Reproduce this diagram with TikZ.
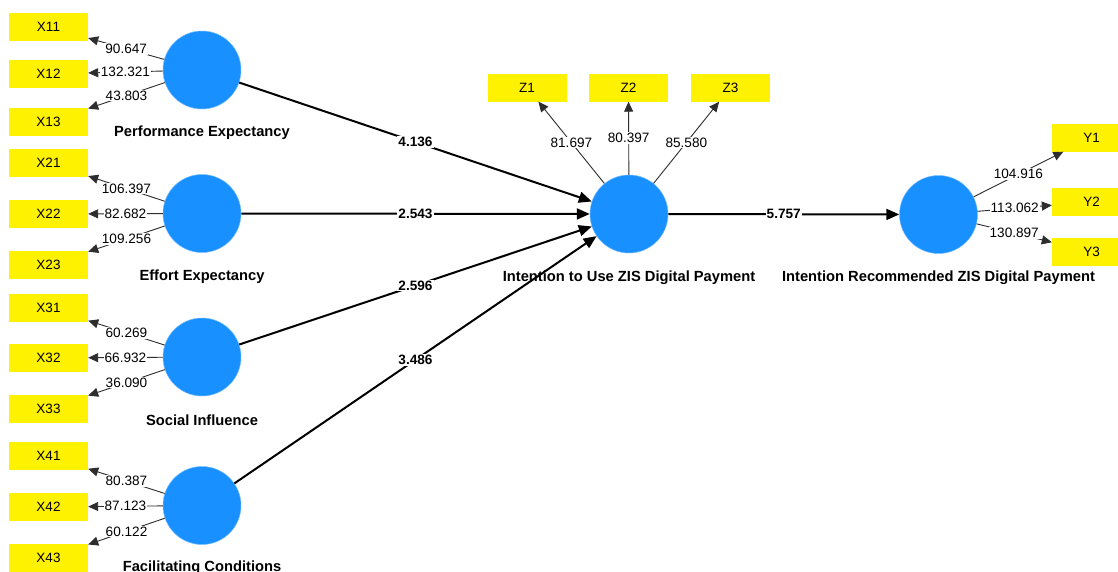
\documentclass[tikz,border=0pt]{standalone}
\usepackage{fontspec}
\setmainfont{Liberation Sans}
\usetikzlibrary{arrows.meta}
\definecolor{lvblue}{RGB}{24,144,255}
\definecolor{olinec}{RGB}{45,45,45}
\begin{document}
\begin{tikzpicture}[x=1pt,y=-1pt,
 ind/.style={fill=yellow, minimum width=79pt, minimum height=28pt, inner sep=0pt, font=\fontsize{13.5}{15}\selectfont},
 lv/.style={circle, fill=lvblue, draw=lvblue!60, line width=0.5pt, minimum size=78pt, inner sep=0pt},
 lvlabel/.style={font=\bfseries\fontsize{14.7}{16}\selectfont},
 outer/.style={draw=olinec, line width=0.9pt, -{Triangle[length=10pt,width=9pt]}},
 inner/.style={draw=black, line width=2pt, -{Triangle[length=13pt,width=11pt]}},
 oload/.style={fill=white, inner sep=1pt, font=\fontsize{13.6}{15}\selectfont},
 iload/.style={fill=white, inner sep=1pt, font=\bfseries\fontsize{13.6}{15}\selectfont}]
\useasboundingbox[fill=white] (0,0) rectangle (1118,571);
% indicator boxes
\node[ind] (X11) at (48.5,27) {X11};
\node[ind] (X12) at (48.5,74) {X12};
\node[ind] (X13) at (48.5,122) {X13};
\node[ind] (X21) at (48.5,163) {X21};
\node[ind] (X22) at (48.5,214) {X22};
\node[ind] (X23) at (48.5,265) {X23};
\node[ind] (X31) at (48.5,308) {X31};
\node[ind] (X32) at (48.5,358) {X32};
\node[ind] (X33) at (48.5,409) {X33};
\node[ind] (X41) at (48.5,456) {X41};
\node[ind] (X42) at (48.5,507) {X42};
\node[ind] (X43) at (48.5,558) {X43};
\node[ind] (Z1) at (527,87.5) {Z1};
\node[ind] (Z2) at (628.5,87.5) {Z2};
\node[ind] (Z3) at (730.5,87.5) {Z3};
\node[ind] (Y1) at (1091.5,137.5) {Y1};
\node[ind] (Y2) at (1091.5,202) {Y2};
\node[ind] (Y3) at (1091.5,252) {Y3};
% latent variables
\node[lv] (PE) at (202,70) {};
\node[lv] (EE) at (202,213.5) {};
\node[lv] (SI) at (202,357) {};
\node[lv] (FC) at (202,505.5) {};
\node[lv] (IU) at (629,214) {};
\node[lv] (IR) at (938.5,214.5) {};
\node[lvlabel] (PEl) at (202,132.5) {Performance Expectancy};
\node[lvlabel] (EEl) at (202,276.5) {Effort Expectancy};
\node[lvlabel] (SIl) at (202,420.5) {Social Influence};
\node[lvlabel] (FCl) at (202,567.5) {Facilitating Conditions};
\node[lvlabel] (IUl) at (629,277.5) {Intention to Use ZIS Digital Payment};
\node[lvlabel] (IRl) at (938.5,277.5) {Intention Recommended ZIS Digital Payment};
% outer loadings
\draw[outer] (PE) -- node[oload] {90.647} (X11);
\draw[outer] (PE) -- node[oload] {132.321} (X12);
\draw[outer] (PE) -- node[oload] {43.803} (X13);
\draw[outer] (EE) -- node[oload] {106.397} (X21);
\draw[outer] (EE) -- node[oload] {82.682} (X22);
\draw[outer] (EE) -- node[oload] {109.256} (X23);
\draw[outer] (SI) -- node[oload] {60.269} (X31);
\draw[outer] (SI) -- node[oload] {66.932} (X32);
\draw[outer] (SI) -- node[oload] {36.090} (X33);
\draw[outer] (FC) -- node[oload] {80.387} (X41);
\draw[outer] (FC) -- node[oload] {87.123} (X42);
\draw[outer] (FC) -- node[oload] {60.122} (X43);
\draw[outer] (IU) -- node[oload] {81.697} (Z1);
\draw[outer] (IU) -- node[oload] {80.397} (Z2);
\draw[outer] (IU) -- node[oload] {85.580} (Z3);
\draw[outer] (IR) -- node[oload] {104.916} (Y1);
\draw[outer] (IR) -- node[oload] {113.062} (Y2);
\draw[outer] (IR) -- node[oload] {130.897} (Y3);
% inner paths
\draw[inner] (PE) -- node[iload] {4.136} (IU);
\draw[inner] (EE) -- node[iload] {2.543} (IU);
\draw[inner] (SI) -- node[iload] {2.596} (IU);
\draw[inner] (FC) -- node[iload] {3.486} (IU);
\draw[inner] (IU) -- node[iload] {5.757} (IR);
\end{tikzpicture}
\end{document}
